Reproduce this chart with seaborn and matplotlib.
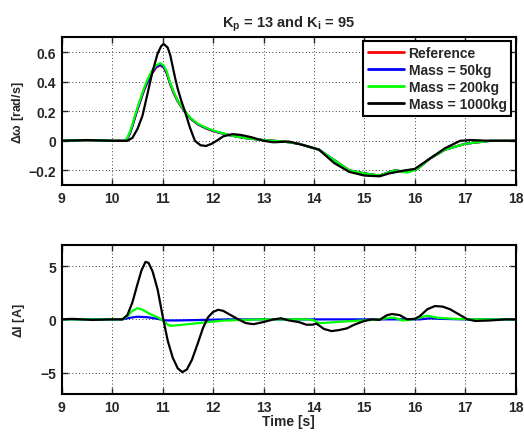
import numpy as np
import pandas as pd
import seaborn as sns
import matplotlib
matplotlib.use("Agg")
import matplotlib.pyplot as plt

sns.set_style("white")
plt.rcParams['font.family'] = ['Liberation Sans', 'DejaVu Sans']
plt.rcParams['font.weight'] = 'bold'
plt.rcParams['mathtext.fontset'] = 'custom'
plt.rcParams['mathtext.rm'] = 'Liberation Sans:bold'
plt.rcParams['mathtext.it'] = 'Liberation Sans:bold'
plt.rcParams['mathtext.bf'] = 'Liberation Sans:bold'

# ---- Top panel: speed deviation ----
t_w = [9.0, 9.5, 10.0, 10.25, 10.3, 10.35, 10.4, 10.45, 10.5, 10.56, 10.62, 10.68, 10.78, 10.87,
       10.95, 11.02, 11.08, 11.14, 11.22, 11.3, 11.44, 11.55, 11.7, 11.85, 12.0, 12.3, 12.6,
       13.0, 13.4, 13.7, 14.1, 14.4, 14.7, 15.0, 15.3, 15.6, 15.85, 16.05, 16.3, 16.6, 17.0,
       17.5, 18.0]
w_ref = [0.0, 0.005, 0.0, 0.0, 0.015, 0.05, 0.1, 0.155, 0.21, 0.27, 0.33, 0.38, 0.45, 0.495,
         0.51, 0.495, 0.455, 0.39, 0.32, 0.265, 0.195, 0.15, 0.11, 0.085, 0.065, 0.04, 0.02,
         0.005, -0.005, -0.02, -0.06, -0.13, -0.2, -0.22, -0.235, -0.2, -0.21, -0.19, -0.12,
         -0.06, -0.02, 0.0, 0.0]
w_50 = [0.0, 0.005, 0.0, 0.0, 0.015, 0.05, 0.1, 0.16, 0.215, 0.275, 0.335, 0.385, 0.455, 0.5,
        0.515, 0.5, 0.46, 0.395, 0.325, 0.268, 0.198, 0.152, 0.112, 0.087, 0.067, 0.04, 0.02,
        0.005, -0.005, -0.02, -0.06, -0.13, -0.2, -0.22, -0.235, -0.2, -0.21, -0.19, -0.12,
        -0.06, -0.02, 0.0, 0.0]
w_200 = [0.0, 0.005, 0.0, 0.0, 0.02, 0.06, 0.11, 0.17, 0.225, 0.285, 0.345, 0.4, 0.47, 0.51,
         0.525, 0.51, 0.47, 0.4, 0.33, 0.27, 0.2, 0.155, 0.115, 0.09, 0.07, 0.04, 0.02,
         0.005, -0.005, -0.02, -0.06, -0.13, -0.2, -0.22, -0.235, -0.2, -0.215, -0.19, -0.12,
         -0.06, -0.02, 0.0, 0.0]
t_w1000 = [9.0, 9.5, 10.0, 10.3, 10.4, 10.5, 10.6, 10.7, 10.8, 10.9, 10.97, 11.02, 11.1, 11.15,
           11.2, 11.25, 11.3, 11.37, 11.44, 11.54, 11.64, 11.75, 11.86, 11.97, 12.07, 12.2,
           12.38, 12.55, 12.75, 13.0, 13.2, 13.5, 13.8, 14.1, 14.4, 14.7, 15.0, 15.3, 15.5,
           15.8, 16.0, 16.3, 16.6, 16.9, 17.1, 17.5, 18.0]
w_1000 = [0.0, 0.005, 0.0, 0.0, 0.02, 0.08, 0.17, 0.32, 0.47, 0.59, 0.64, 0.655, 0.63, 0.58,
          0.5, 0.42, 0.35, 0.27, 0.2, 0.09, 0.0, -0.03, -0.035, -0.02, 0.0, 0.03,
          0.045, 0.04, 0.025, 0.0, -0.01, -0.005, -0.03, -0.06, -0.15, -0.21, -0.235, -0.24, -0.22,
          -0.2, -0.19, -0.12, -0.05, 0.0, 0.005, 0.0, 0.0]

# ---- Bottom panel: current deviation ----
t_i1000 = [9.0, 9.2, 9.6, 10.0, 10.2, 10.3, 10.4, 10.5, 10.58, 10.66, 10.72, 10.8, 10.9, 11.0,
           11.1, 11.2, 11.3, 11.39, 11.48, 11.58, 11.7, 11.8, 11.9, 12.0, 12.1, 12.2, 12.35,
           12.5, 12.65, 12.8, 13.0, 13.2, 13.35, 13.5, 13.7, 13.85, 13.97, 14.05, 14.2, 14.35,
           14.5, 14.65, 14.8, 15.0, 15.15, 15.3, 15.45, 15.55, 15.7, 15.85, 16.0, 16.1, 16.25,
           16.4, 16.55, 16.7, 16.9, 17.05, 17.2, 17.5, 17.8, 18.0]
i_1000 = [0.0, 0.05, -0.05, 0.0, 0.0, 0.4, 1.6, 3.3, 4.6, 5.4, 5.3, 4.5, 2.8, 0.3,
          -2.0, -3.6, -4.6, -4.95, -4.7, -3.8, -2.2, -0.8, 0.2, 0.7, 0.9, 0.8, 0.4,
          0.0, -0.35, -0.45, -0.25, 0.0, 0.1, -0.1, -0.25, -0.5, -0.5, -0.4, -0.9, -1.1,
          -1.0, -0.85, -0.5, -0.15, 0.0, -0.05, 0.4, 0.5, 0.4, 0.0, 0.05, 0.3, 0.95,
          1.25, 1.2, 0.95, 0.4, 0.0, -0.15, -0.1, 0.0, 0.0]
t_i200 = [9.0, 10.2, 10.3, 10.4, 10.5, 10.6, 10.75, 10.9, 11.0, 11.1, 11.15, 11.3, 11.5, 11.7,
          11.9, 12.2, 12.6, 13.0, 13.5, 13.9, 14.0, 14.1, 14.3, 14.6, 15.0, 15.3, 15.5, 15.6,
          15.75, 15.9, 16.05, 16.25, 16.45, 16.8, 17.2, 18.0]
i_200 = [0.0, 0.0, 0.3, 0.8, 1.05, 0.9, 0.5, 0.2, -0.1, -0.5, -0.6, -0.55, -0.45, -0.35,
         -0.25, -0.12, -0.05, 0.0, 0.0, 0.0, -0.1, -0.35, -0.3, -0.2, -0.1, 0.0, 0.15, 0.15,
         -0.1, -0.05, 0.1, 0.35, 0.15, 0.05, 0.0, 0.0]
t_i50 = [9.0, 10.2, 10.35, 10.5, 10.7, 10.9, 11.05, 11.3, 11.8, 12.3, 16.1, 16.3, 16.5, 17.0, 18.0]
i_50 = [0.0, 0.0, 0.15, 0.25, 0.2, 0.05, -0.1, -0.1, -0.05, 0.0, 0.0, 0.1, 0.05, 0.0, 0.0]

labels = ["Reference", "Mass = 50kg", "Mass = 200kg", "Mass = 1000kg"]
colors = ["#ff0000", "#0000ff", "#00ff00", "#000000"]
x_ticks = list(range(9, 19))

fig = plt.figure(figsize=(5.24, 4.35), dpi=100)
ax1 = fig.add_axes([0.118, 0.572, 0.866, 0.340])
ax2 = fig.add_axes([0.118, 0.092, 0.866, 0.343])

top_series = [(t_w, w_ref), (t_w, w_50), (t_w, w_200), (t_w1000, w_1000)]
for (tx, ty), lab, c in zip(top_series, labels, colors):
    sns.lineplot(x=tx, y=ty, ax=ax1, color=c, lw=1.6, label=lab, sort=False, estimator=None)

bot_series = [(t_i50, i_50), (t_i200, i_200), (t_i1000, i_1000)]
for (tx, ty), c in zip(bot_series, colors[1:]):
    sns.lineplot(x=tx, y=ty, ax=ax2, color=c, lw=1.6, sort=False, estimator=None)

for ax in (ax1, ax2):
    ax.set_xlim(9, 18)
    ax.set_xticks(x_ticks)
    ax.grid(True, color='black', linestyle=(0, (1, 3)), linewidth=0.6)
    ax.tick_params(direction='in', length=4, width=1, labelsize=10, top=True, right=True,
                   bottom=True, left=True, pad=4)
    for s in ax.spines.values():
        s.set_color('black')
        s.set_linewidth(1.5)
    ax.set_xlabel('')

ax1.set_ylim(-0.3, 0.7)
ax1.set_yticks([-0.2, 0, 0.2, 0.4, 0.6])
ax1.set_yticklabels(['\u22120.2', '0', '0.2', '0.4', '0.6'], fontweight='bold')
ax1.set_xticklabels([str(v) for v in x_ticks], fontweight='bold')
ax1.set_ylabel(r'$\Delta\omega$ [rad/s]', fontsize=9, fontweight='bold', labelpad=2)
ax1.set_title(r'K$_\mathregular{p}$ = 13 and K$_\mathregular{i}$ = 95', fontsize=10.5,
              fontweight='bold', pad=8)

ax2.set_ylim(-7, 7)
ax2.set_yticks([-5, 0, 5])
ax2.set_yticklabels(['\u22125', '0', '5'], fontweight='bold')
ax2.set_xticklabels([str(v) for v in x_ticks], fontweight='bold')
ax2.set_ylabel(r'$\Delta$I [A]', fontsize=9, fontweight='bold', labelpad=10)
ax2.set_xlabel('Time [s]', fontsize=10, fontweight='bold', labelpad=0)

leg = ax1.legend(loc='upper right', frameon=True, fancybox=False, fontsize=10,
                 borderaxespad=0.3, handlelength=2.6, handletextpad=0.3,
                 labelspacing=0.2, borderpad=0.35)
leg.get_frame().set_edgecolor('black')
leg.get_frame().set_linewidth(1.5)
leg.get_frame().set_alpha(1)
for t in leg.get_texts():
    t.set_fontweight('bold')
for l in leg.get_lines():
    l.set_linewidth(2)

fig.savefig('out.png', dpi=100)
